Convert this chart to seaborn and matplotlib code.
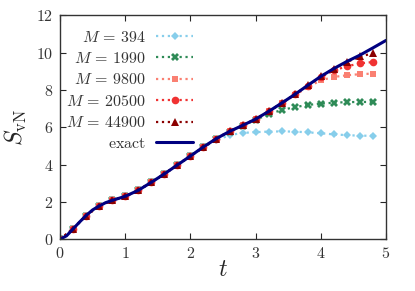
import numpy as np
import seaborn as sns
import matplotlib.pyplot as plt
import pandas as pd

# time grid of the sampled points
t_pts = [0.0, 0.2, 0.4, 0.6, 0.8, 1.0, 1.2, 1.4, 1.6, 1.8, 2.0, 2.2,
         2.4, 2.6, 2.8, 3.0, 3.2, 3.4, 3.6, 3.8, 4.0, 4.2, 4.4, 4.6, 4.8]
# all M agree up to t = 2.2
early = [0.0, 0.55, 1.27, 1.78, 2.08, 2.30, 2.62, 3.05, 3.50, 3.98, 4.46, 4.93]

s_394 = early + [5.30, 5.58, 5.70, 5.74, 5.77, 5.78, 5.77, 5.73, 5.68, 5.62, 5.58, 5.55, 5.55]
s_1990 = early + [5.40, 5.77, 6.08, 6.40, 6.70, 6.93, 7.08, 7.20, 7.27, 7.32, 7.35, 7.36, 7.36]
s_9800 = early + [5.40, 5.78, 6.10, 6.44, 6.85, 7.28, 7.72, 8.15, 8.52, 8.70, 8.79, 8.85, 8.88]
s_20500 = early + [5.40, 5.78, 6.10, 6.44, 6.85, 7.30, 7.76, 8.23, 8.68, 9.05, 9.27, 9.43, 9.50]
s_44900 = early + [5.40, 5.78, 6.10, 6.44, 6.85, 7.30, 7.76, 8.25, 8.73, 9.15, 9.50, 9.80, 9.96]

# exact curve
t_exact = [0.0, 0.1, 0.2, 0.3, 0.4, 0.5, 0.6, 0.7, 0.8, 1.0, 1.2, 1.4, 1.6, 1.8, 2.0,
           2.2, 2.4, 2.6, 2.8, 3.0, 3.2, 3.4, 3.6, 3.8, 4.0, 4.2, 4.4, 4.6, 4.8, 5.0]
s_exact = [0.0, 0.18, 0.55, 0.92, 1.27, 1.57, 1.78, 1.96, 2.08, 2.30, 2.62, 3.05, 3.50, 3.98, 4.46,
           4.95, 5.40, 5.78, 6.10, 6.44, 6.85, 7.30, 7.76, 8.25, 8.73, 9.15, 9.53, 9.87, 10.26, 10.66]

labels = [r'$M\,=\,394$', r'$M\,=\,1990$', r'$M\,=\,9800$', r'$M\,=\,20500$', r'$M\,=\,44900$']
series = [s_394, s_1990, s_9800, s_20500, s_44900]
colors = ['#87CEEB', '#2E8B57', '#FA8072', '#F03232', '#8B0000']
markers = ['D', 'X', 's', 'o', '^']
msizes = [4.5, 6, 5, 5.5, 5.5]

sns.set_style('ticks')
plt.rcParams['font.family'] = 'serif'
plt.rcParams['font.serif'] = ['cmr10']
plt.rcParams['mathtext.fontset'] = 'cm'
plt.rcParams['axes.formatter.use_mathtext'] = True

fig = plt.figure(figsize=(4.15, 2.91), dpi=100)
ax = fig.add_axes([0.1446, 0.178, 0.7855, 0.769])

for lab, s, c, m, ms in zip(labels, series, colors, markers, msizes):
    df = pd.DataFrame({'t': t_pts, 'S': s})
    sns.lineplot(data=df, x='t', y='S', ax=ax, color=c, linestyle=':', linewidth=1.6,
                 marker=m, markersize=ms, markeredgewidth=0, label=lab)

ex = pd.DataFrame({'t': t_exact, 'S': s_exact})
sns.lineplot(data=ex, x='t', y='S', ax=ax, color='#000080', linewidth=2.2, label=r'$\mathrm{exact}$')

ax.set_xlim(0, 5)
ax.set_ylim(0, 12)
ax.set_xticks(range(0, 6))
ax.set_yticks(range(0, 13, 2))
ax.tick_params(direction='in', top=True, right=True, labelsize=11.5, length=4, width=0.8,
               pad=5, labelcolor='#333333')
for sp in ax.spines.values():
    sp.set_linewidth(1.0)
    sp.set_color('#333333')
ax.set_xlabel('$t$', fontsize=17)
ax.xaxis.set_label_coords(0.5, -0.09)
ax.set_ylabel(r'$S_{\mathrm{vN}}$', fontsize=17)
ax.yaxis.set_label_coords(-0.095, 0.5)

# markerfirst=False packs rows right-aligned, so labels end next to the handles
leg = ax.legend(loc='upper left', markerfirst=False, frameon=False, fontsize=11.5,
                handlelength=2.3, handletextpad=0.65, labelspacing=0.4,
                borderaxespad=0.0, bbox_to_anchor=(0.0, 0.965))
for tx in leg.get_texts():
    tx.set_color('#333333')

fig.savefig('out.png', dpi=100)
